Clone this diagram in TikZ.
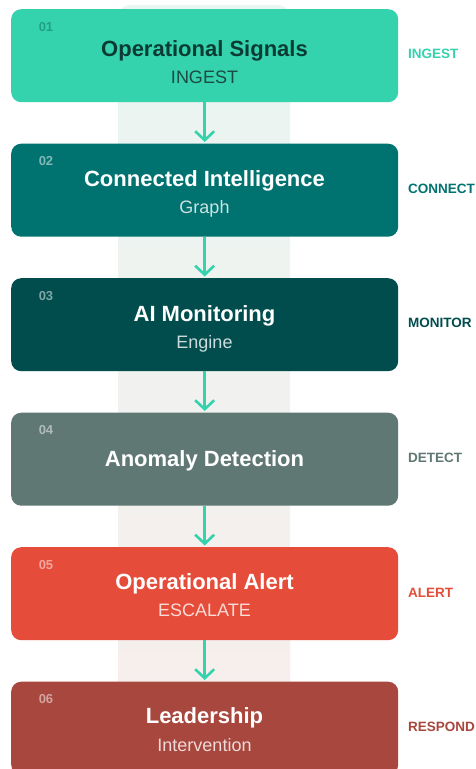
\documentclass[tikz,border=0pt]{standalone}
\usepackage{fontspec}
\setmainfont{Liberation Sans}
\usetikzlibrary{arrows.meta}
\definecolor{cA}{HTML}{34D3AE}
\definecolor{cB}{HTML}{007370}
\definecolor{cC}{HTML}{014D4E}
\definecolor{cD}{HTML}{5F7873}
\definecolor{cE}{HTML}{E54D3A}
\definecolor{cF}{HTML}{A8473D}
\definecolor{darkA}{HTML}{0B3B33}
\definecolor{subA}{HTML}{1D4A43}
\definecolor{numA}{HTML}{21A083}
\definecolor{colTop}{HTML}{E8F5F1}
\definecolor{colMid}{HTML}{F1F2EF}
\definecolor{colBot}{HTML}{F8EDEB}
\tikzset{
  stagebox/.style={rounded corners=10pt, minimum width=387pt, minimum height=93pt, inner sep=0pt, anchor=north west, draw=none},
  ttl/.style={font=\fontsize{22}{24}\selectfont\bfseries, inner sep=0pt, anchor=base},
  sub/.style={font=\fontsize{18}{20}\selectfont, inner sep=0pt, anchor=base},
  num/.style={font=\fontsize{13}{14}\selectfont\bfseries, inner sep=0pt, anchor=base},
  side/.style={font=\fontsize{13.5}{15}\selectfont\bfseries, inner sep=0pt, anchor=base west},
  arr/.style={draw=cA, line width=2.6pt, -{Straight Barb[length=9pt,width=19pt,line width=2.6pt]}}
}
\begin{document}
\begin{tikzpicture}[x=1pt,y=-1pt]
\useasboundingbox (0,0) rectangle (476,769);
\clip (0,0) rectangle (476,769);
\fill[white] (0,0) rectangle (476,769);
% background column
\shade[top color=colTop, bottom color=colBot, middle color=colMid, rounded corners=12pt] (118,5) rectangle (290,790);
% boxes
\node[stagebox, fill=cA] (b1) at (11,9) {};
\node[stagebox, fill=cB] (b2) at (11,143.5) {};
\node[stagebox, fill=cC] (b3) at (11,278) {};
\node[stagebox, fill=cD] (b4) at (11,412.5) {};
\node[stagebox, fill=cE] (b5) at (11,547) {};
\node[stagebox, fill=cF] (b6) at (11,681.5) {};
% arrows
\draw[arr] (b1.south) -- ([yshift=1.5pt]b2.north);
\draw[arr] (b2.south) -- ([yshift=1.5pt]b3.north);
\draw[arr] (b3.south) -- ([yshift=1.5pt]b4.north);
\draw[arr] (b4.south) -- ([yshift=1.5pt]b5.north);
\draw[arr] (b5.south) -- ([yshift=1.5pt]b6.north);
% box 1
\node[num, text=numA] (n1) at (46,31.7) {01};
\node[ttl, text=darkA] (t1) at (204.5,56.9) {Operational Signals};
\node[sub, text=subA] (s1) at (204.5,83.9) {INGEST};
% box 2
\node[num, text=white!50!cB] (n2) at (46,165.7) {02};
\node[ttl, text=white] (t2) at (204.5,186.2) {Connected Intelligence};
\node[sub, text=white!80!cB] (s2) at (204.5,213.4) {Graph};
% box 3
\node[num, text=white!50!cC] (n3) at (46,300.4) {03};
\node[ttl, text=white] (t3) at (204.5,321.2) {AI Monitoring};
\node[sub, text=white!80!cC] (s3) at (204.5,348.1) {Engine};
% box 4
\node[num, text=white!50!cD] (n4) at (46,434.7) {04};
\node[ttl, text=white] (t4) at (204.5,466.9) {Anomaly Detection};
% box 5
\node[num, text=white!50!cE] (n5) at (46,569.2) {05};
\node[ttl, text=white] (t5) at (204.5,589.6) {Operational Alert};
\node[sub, text=white!80!cE] (s5) at (204.5,616.4) {ESCALATE};
% box 6
\node[num, text=white!50!cF] (n6) at (46,703.7) {06};
\node[ttl, text=white] (t6) at (204.5,723.9) {Leadership};
\node[sub, text=white!80!cF] (s6) at (204.5,751.4) {Intervention};
% side labels
\node[side, text=cA] (l1) at (408,58.8) {INGEST};
\node[side, text=cB] (l2) at (408,193.3) {CONNECT};
\node[side, text=cC] (l3) at (408,327.8) {MONITOR};
\node[side, text=cD] (l4) at (408,462.8) {DETECT};
\node[side, text=cE] (l5) at (408,597.3) {ALERT};
\node[side, text=cF] (l6) at (408,731.3) {RESPOND};
\end{tikzpicture}
\end{document}
